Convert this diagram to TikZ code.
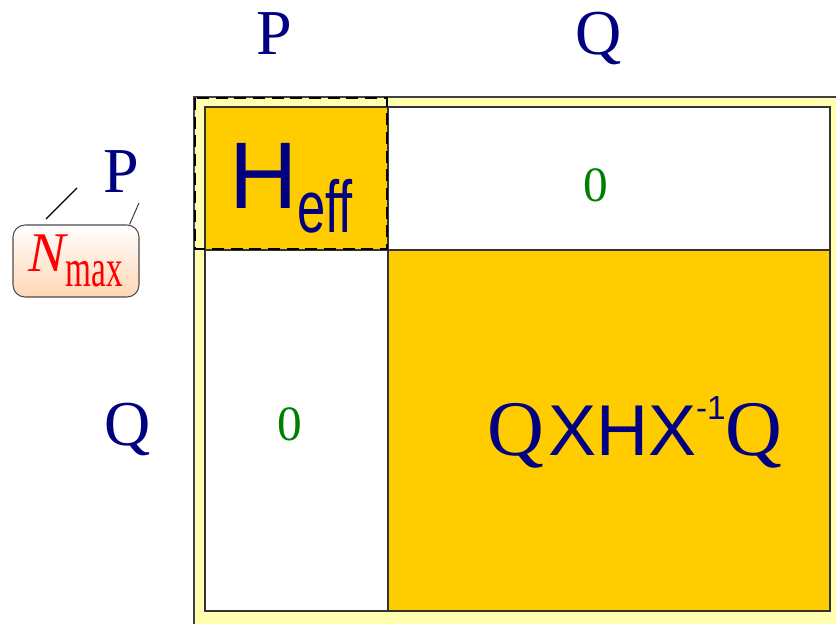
\documentclass[tikz,border=0pt]{standalone}
\usepackage{fontspec}
\setmainfont{Liberation Serif}
\setsansfont{Liberation Sans}
\usepackage{graphicx}
\usetikzlibrary{positioning}

\definecolor{navy}{RGB}{0,0,128}
\definecolor{cellyellow}{RGB}{255,204,0}
\definecolor{paleyellow}{RGB}{255,255,175}
\definecolor{zerogreen}{RGB}{0,128,0}
\definecolor{peach}{RGB}{255,214,180}

\tikzset{
  cellline/.style={draw=black!80,line width=1.1pt},
  blocklabel/.style={anchor=base,inner sep=0pt,text=navy,font=\fontsize{48}{48}\selectfont},
  zerolabel/.style={anchor=base,inner sep=0pt,text=zerogreen,font=\fontsize{37}{37}\selectfont},
}

\begin{document}
\begin{tikzpicture}[x=0.75pt,y=-0.75pt]
\path[use as bounding box] (0,0) rectangle (836,624);
\clip (0,0) rectangle (836,624);
% outer frame
\filldraw[fill=paleyellow,draw=black!75,line width=1.1pt] (194,97) rectangle (860,650);
% the four blocks
\filldraw[cellline,fill=cellyellow] (205,107) rectangle (388,250);
\filldraw[cellline,fill=white] (388,107) rectangle (830,250);
\filldraw[cellline,fill=white] (205,250) rectangle (388,611);
\filldraw[cellline,fill=cellyellow] (388,250) rectangle (830,611);
% P space
\draw[black,line width=2pt,dash pattern=on 9pt off 5pt] (195,98) rectangle (387,249);
% block names
\node[blocklabel] (colP) at (274,55) {P};
\node[blocklabel] (colQ) at (599,55) {Q};
\node[blocklabel] (rowP) at (121,193) {P};
\node[blocklabel] (rowQ) at (128,445) {Q};
% entries
\node[anchor=base west,inner sep=0pt,text=navy,font=\sffamily] (heff) at (229,209)
  {\fontsize{71}{71}\selectfont H\raisebox{-18pt}{\fontsize{38}{38}\selectfont\scalebox{1}[1.45]{eff}}};
\node[zerolabel] (zeroPQ) at (596,202) {0};
\node[zerolabel] (zeroQP) at (290,440) {0};
\node[anchor=base west,inner sep=0pt,text=navy] (qhq) at (487,455)
  {\rmfamily\fontsize{59}{59}\selectfont Q\hspace{3pt}{\sffamily\fontsize{54}{54}\selectfont XHX\raisebox{27pt}{\fontsize{25}{25}\selectfont -1}}Q};
% N_max tag
\node[draw=black!70,line width=0.8pt,rounded corners=9pt,top color=white,bottom color=peach,
  minimum width=94.5pt,minimum height=54pt,inner sep=0pt,text=red] (nmax) at (76,261)
  {\fontsize{42}{42}\selectfont\itshape N\upshape\raisebox{-11pt}{\fontsize{25}{25}\selectfont\scalebox{1}[1.6]{max}}};
\coordinate (tagA) at (46,219);
\coordinate (tagB) at (77,188);
\coordinate (tagC) at (139,203);
\draw[line width=1pt] (tagA) -- (tagB);
\draw[line width=0.7pt,black!80] (nmax.north east) ++(-10,0) -- (tagC);
\end{tikzpicture}
\end{document}
